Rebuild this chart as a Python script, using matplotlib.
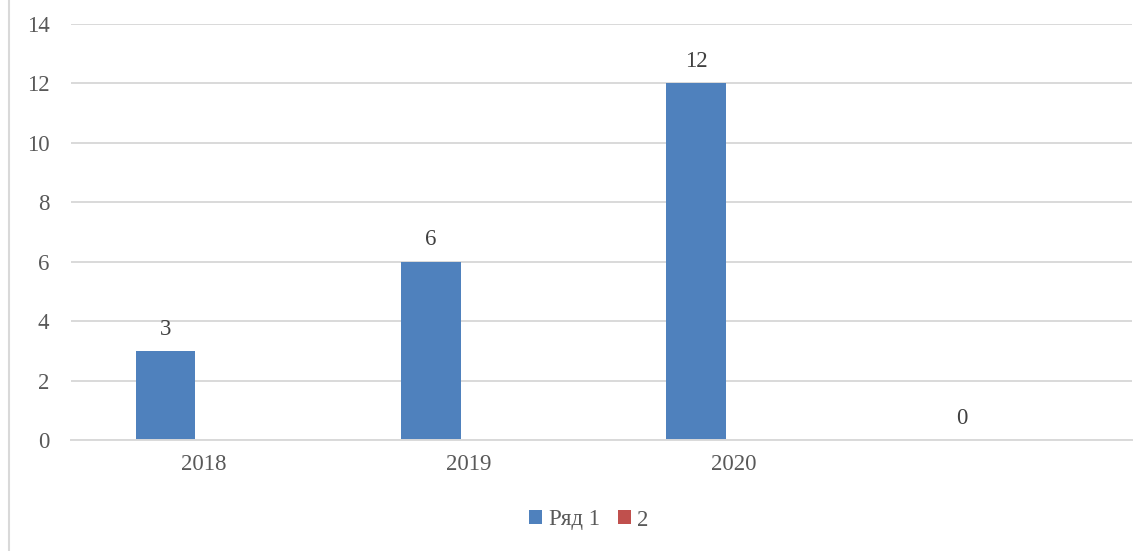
import matplotlib
matplotlib.use("Agg")
import matplotlib.pyplot as plt
import numpy as np
from matplotlib.patches import Patch
from matplotlib.lines import Line2D

categories = ["2018", "2019", "2020", ""]
series1_name = "Ряд 1"
series1 = [3, 6, 12, 0]
series2_name = "2"
series2 = [np.nan, np.nan, np.nan, np.nan]
yticks = [0, 2, 4, 6, 8, 10, 12, 14]

blue = "#4F81BD"
red = "#C0504D"
txt = "#595959"
grid = "#D9D9D9"

plt.rcParams['font.family'] = ['Liberation Serif', 'DejaVu Serif']

W, H = 1140, 551
fig = plt.figure(figsize=(W / 100, H / 100), dpi=100)
ax = fig.add_axes([71 / W, (H - 440) / H, (1131.7 - 71) / W, (440 - 23.7) / H])

x = np.arange(len(categories))
bw = 0.224
off = 0.1425
ax.bar(x - off, series1, width=bw, color=blue, zorder=3)
ax.bar(x + off, series2, width=bw, color=red, zorder=3)

for xi, v in zip(x, series1):
    ax.annotate(f"{v:g}", (xi - off, v), xytext=(0, 8), textcoords="offset points",
                ha="center", va="bottom", fontsize=16.5, color="#404040")

ax.set_xlim(-0.5, len(categories) - 0.5)
ax.set_ylim(0, 14)
ax.set_yticks(yticks)
ax.set_xticks(x)
ax.set_xticklabels(categories)
ax.tick_params(axis="both", length=0, labelsize=16.5, colors=txt)
ax.tick_params(axis="y", pad=15.5)
ax.tick_params(axis="x", pad=10)
ax.yaxis.grid(True, color=grid, linewidth=1.4, zorder=0)
for s in ["top", "right", "left"]:
    ax.spines[s].set_visible(False)
ax.spines["bottom"].set_color(grid)
ax.spines["bottom"].set_linewidth(1.4)
ax.spines["bottom"].set_zorder(4)

handles = [Patch(facecolor=blue, edgecolor="none", label=series1_name),
           Patch(facecolor=red, edgecolor="none", label=series2_name)]
leg = fig.legend(handles=handles, loc="center", bbox_to_anchor=(589 / W, 1 - 520 / H),
                 ncol=2, frameon=False, fontsize=16.5, handlelength=0.55, handleheight=0.55,
                 handletextpad=0.3, columnspacing=0.8)
for t in leg.get_texts():
    t.set_color(txt)

fig.add_artist(Line2D([9 / W, 9 / W], [0, 1], transform=fig.transFigure, color=grid, linewidth=1.5))

fig.savefig("out.png", dpi=100)
